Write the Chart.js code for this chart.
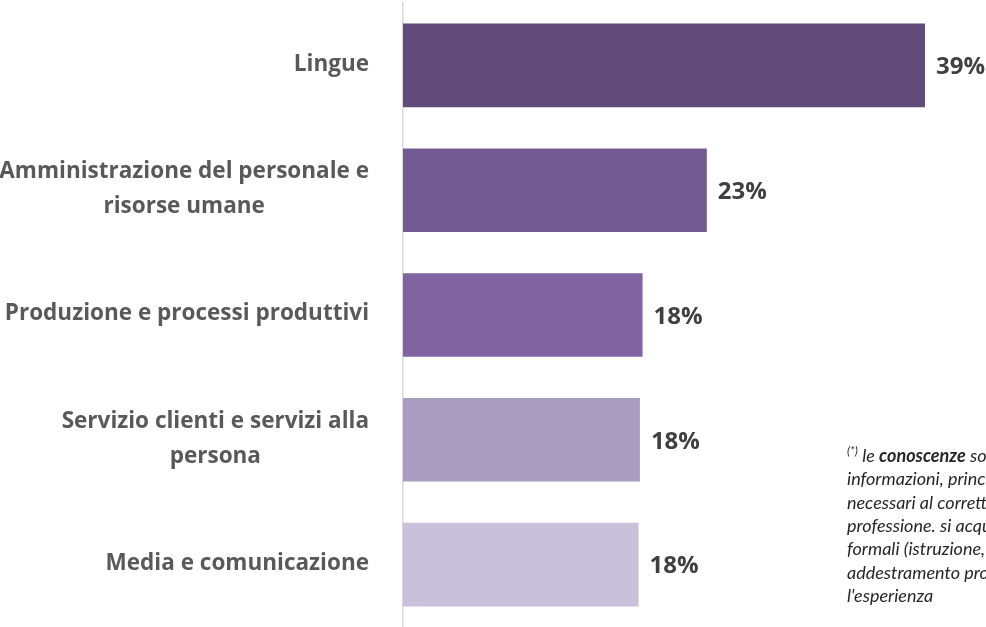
<!DOCTYPE html>
<html><head><meta charset="utf-8">
<script src="https://cdn.jsdelivr.net/npm/chart.js@4/dist/chart.umd.min.js"></script>
<style>html,body{margin:0;padding:0;background:#fff;overflow:hidden}#wrap{width:986px;height:627px;position:relative}</style>
</head><body><div id="wrap"><canvas id="c" width="986" height="627"></canvas></div>
<script>
const categories = [
  ["Lingue"],
  ["Amministrazione del personale e", "risorse umane"],
  ["Produzione e processi produttivi"],
  ["Servizio clienti e servizi alla", "persona"],
  ["Media e comunicazione"]
];
const values = [39, 22.7, 17.9, 17.7, 17.6];
const valueLabels = ["39%", "23%", "18%", "18%", "18%"];
const barColors = ["#604b7a", "#735a93", "#8064a2", "#aa9bc0", "#c9c0d9"];
const footnoteFirstLine = [
  {t: "(*)", style: "sup"},
  {t: " le ", style: "i"},
  {t: "conoscenze", style: "bi"},
  {t: " sono l'insieme di fatti,", style: "i"}
];
const footnoteLines = [
  "informazioni, principi, pratiche e teorie",
  "necessari al corretto svolgimento della",
  "professione. si acquisiscono attraverso percorsi",
  "formali (istruzione, formazione,",
  "addestramento professionale) e/o attraverso",
  "l'esperienza"
];

const FONT = "'Open Sans', Lato, sans-serif";
const FN_FONT = "Lato, 'Open Sans', sans-serif";

const labelsPlugin = {
  id: 'labelsPlugin',
  afterDraw(chart) {
    const ctx = chart.ctx;
    const y = chart.scales.y;
    const meta = chart.getDatasetMeta(0);
    ctx.save();
    ctx.font = "bold 20px " + FONT;
    let widest = 0;
    categories.forEach(lines => lines.forEach(l => { widest = Math.max(widest, ctx.measureText(l).width); }));
    const size = Math.min(24, 20 * 370 / widest);
    ctx.font = "bold " + size.toFixed(2) + "px " + FONT;
    ctx.fillStyle = "#595959";
    ctx.textBaseline = "middle";
    ctx.textAlign = "center";
    const rightEdge = 369, lineH = 35;
    categories.forEach((lines, i) => {
      const cy = y.getPixelForValue(i) - 1;
      const w = Math.max(...lines.map(l => ctx.measureText(l).width));
      const cx = rightEdge - w / 2;
      lines.forEach((l, j) => {
        ctx.fillText(l, cx, cy + (j - (lines.length - 1) / 2) * lineH);
      });
    });
    ctx.font = "bold 24px " + FONT;
    ctx.fillStyle = "#404040";
    ctx.textAlign = "left";
    meta.data.forEach((bar, i) => {
      ctx.fillText(valueLabels[i], bar.x + 11, bar.y + 2);
    });
    ctx.fillStyle = "#262626";
    ctx.textBaseline = "alphabetic";
    let x = 847, by = 462;
    footnoteFirstLine.forEach(seg => {
      let f, dy = 0;
      if (seg.style === "sup") { f = "italic 12px " + FN_FONT; dy = -7; }
      else if (seg.style === "bi") { f = "italic bold 18px " + FN_FONT; }
      else { f = "italic 18px " + FN_FONT; }
      ctx.font = f;
      ctx.fillText(seg.t, x, by + dy);
      x += ctx.measureText(seg.t).width;
    });
    ctx.font = "italic 18px " + FN_FONT;
    footnoteLines.forEach((l, j) => {
      ctx.fillText(l, 847, by + (j + 1) * 23.3);
    });
    ctx.restore();
  }
};

new Chart(document.getElementById('c'), {
  type: 'bar',
  data: {
    labels: categories,
    datasets: [{
      data: values,
      backgroundColor: barColors,
      borderWidth: 0,
      barPercentage: 0.67,
      categoryPercentage: 1
    }]
  },
  options: {
    indexAxis: 'y',
    responsive: false,
    animation: false,
    devicePixelRatio: 1,
    layout: { padding: { top: 3, left: 0, right: 0, bottom: 0 } },
    plugins: { legend: { display: false }, tooltip: { enabled: false } },
    scales: {
      x: { display: false, min: 0, max: 43.56 },
      y: {
        ticks: { display: false },
        grid: { display: false, drawTicks: false },
        border: { display: true, color: "#d9d9d9", width: 1.5 },
        afterFit(scale) { scale.width = 403; }
      }
    }
  },
  plugins: [labelsPlugin]
});
</script>
</body></html>
